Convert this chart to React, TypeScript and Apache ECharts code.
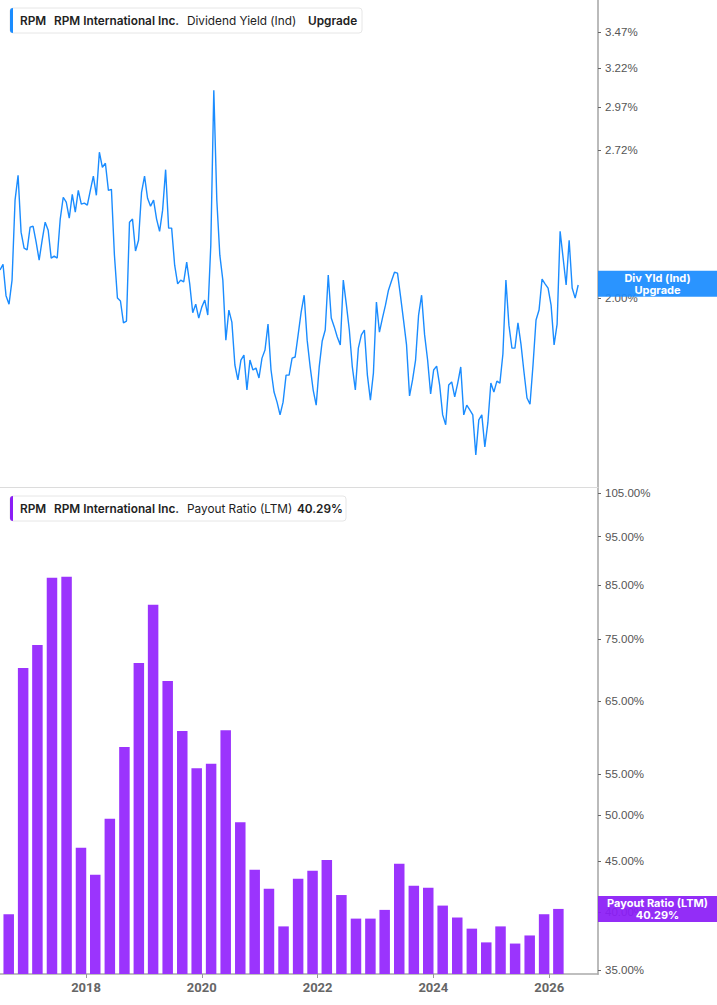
import React, { useEffect, useRef } from 'react';
import * as echarts from 'echarts';

// Dividend yield (%), sampled every 19 days from the start date
const yieldStart = '2016-07-07';
const yieldStepDays = 19;
const yieldValues = [
  2.12, 2.145, 2.01, 1.975, 2.076, 2.45, 2.58, 2.293, 2.218, 2.21,
  2.317, 2.321, 2.246, 2.164, 2.255, 2.341, 2.302, 2.173, 2.182, 2.173,
  2.356, 2.465, 2.44, 2.36, 2.48, 2.39, 2.5, 2.43, 2.435, 2.425,
  2.5, 2.575, 2.475, 2.706, 2.623, 2.645, 2.5, 2.506, 2.186, 2.0,
  1.988, 1.9, 1.907, 2.341, 2.356, 2.205, 2.255, 2.49, 2.575, 2.46,
  2.42, 2.45, 2.356, 2.297, 2.4, 2.61, 2.312, 2.312, 2.141, 2.06,
  2.076, 2.068, 2.155, 2.06, 1.94, 1.975, 1.919, 1.963, 1.992, 1.931,
  2.232, 3.077, 2.45, 2.186, 2.076, 1.833, 1.951, 1.903, 1.741, 1.688,
  1.759, 1.777, 1.653, 1.759, 1.723, 1.73, 1.695, 1.766, 1.796, 1.895,
  1.723, 1.646, 1.612, 1.57, 1.612, 1.705, 1.705, 1.766, 1.77, 1.853,
  1.943, 2.012, 1.833, 1.734, 1.653, 1.602, 1.734, 1.83, 1.872, 2.098,
  1.919, 1.884, 1.845, 1.815, 2.076, 1.975, 1.872, 1.734, 1.653, 1.803,
  1.853, 1.872, 1.705, 1.619, 1.712, 1.984, 1.864, 1.919, 1.971, 2.033,
  2.072, 2.11, 2.106, 2.008, 1.911, 1.815, 1.633, 1.688, 1.759, 1.931,
  2.012, 1.853, 1.759, 1.64, 1.723, 1.737, 1.67, 1.57, 1.538, 1.67,
  1.681, 1.63, 1.677, 1.734, 1.57, 1.602, 1.586, 1.57, 1.445, 1.554,
  1.57, 1.469, 1.544, 1.677, 1.646, 1.684, 1.677, 1.781, 2.076, 1.891,
  1.803, 1.803, 1.9, 1.818, 1.716, 1.626, 1.605, 1.741, 1.911, 1.951,
  2.08, 2.06, 2.042, 1.971, 1.815, 1.895, 2.297, 2.173, 2.055, 2.255,
  2.042, 2.0, 2.055,
];

// Payout ratio (LTM, %) by fiscal quarter end
const payoutDates = [
  '2016-08-31', '2016-11-30', '2017-02-28', '2017-05-31', '2017-08-31', '2017-11-30',
  '2018-02-28', '2018-05-31', '2018-08-31', '2018-11-30', '2019-02-28', '2019-05-31',
  '2019-08-31', '2019-11-30', '2020-02-29', '2020-05-31', '2020-08-31', '2020-11-30',
  '2021-02-28', '2021-05-31', '2021-08-31', '2021-11-30', '2022-02-28', '2022-05-31',
  '2022-08-31', '2022-11-30', '2023-02-28', '2023-05-31', '2023-08-31', '2023-11-30',
  '2024-02-29', '2024-05-31', '2024-08-31', '2024-11-30', '2025-02-28', '2025-05-31',
  '2025-08-31', '2025-11-30', '2026-02-28',
];
const payoutValues = [
  39.8, 70.2, 74.0, 86.4, 86.6, 46.4, 43.6, 49.6, 58.5, 71.0,
  81.2, 68.1, 60.7, 55.7, 56.3, 60.8, 49.2, 44.1, 42.2, 38.7,
  43.2, 44.0, 45.1, 41.6, 39.4, 39.4, 40.2, 44.7, 42.5, 42.3,
  40.6, 39.5, 38.5, 37.3, 38.7, 37.2, 37.9, 39.8, 40.29,
];

const yieldTicks = [2.0, 2.72, 2.97, 3.22, 3.47];
const payoutTicks = [35, 40, 45, 50, 55, 65, 75, 85, 95, 105];
const yearTicks = [2018, 2020, 2022, 2024, 2026];

const BLUE = '#1a8cff';
const PURPLE = '#9b34fd';

export default function App() {
  const ref = useRef<HTMLDivElement>(null);

  useEffect(() => {
    document.body.style.margin = '0';
    const chart = echarts.init(ref.current!, null, { renderer: 'svg' });
    const dayMs = 86400000;
    const start = Date.parse(yieldStart);
    const lineData = yieldValues.map((v, i) => [start + i * yieldStepDays * dayMs, v]);
    const barData = payoutDates.map((d, i) => [Date.parse(d), payoutValues[i]]);
    const lastYield = yieldValues[yieldValues.length - 1];
    const lastPayout = payoutValues[payoutValues.length - 1];
    const xMin = Date.UTC(2016, 6, 7);
    const xMax = Date.UTC(2026, 10, 5);
    const yearVals = yearTicks.map((y) => Date.UTC(y, 0, 1));

    const yLabel = {
      color: '#555',
      fontSize: 11.5,
      fontFamily: 'Liberation Sans, Arial, sans-serif',
      margin: 7,
    };

    const legendText = (x: number, text: string, bold: boolean) => ({
      type: 'text',
      x,
      y: 12.5,
      style: {
        text,
        fontFamily: 'Inter',
        fontSize: 11.8,
        fontWeight: bold ? 600 : 400,
        fill: '#222',
        verticalAlign: 'middle',
      },
    });

    const markLabel = (text: string, bg: string) => ({
      show: true,
      opacity: 1,
      position: 'end',
      distance: 0,
      formatter: text,
      backgroundColor: bg,
      padding: [1, 0, 1, 0],
      rich: {
        a: {
          width: 119,
          align: 'center',
          color: '#fff',
          fontWeight: 'bold',
          fontSize: 11,
          lineHeight: 12,
          fontFamily: 'Inter',
        },
      },
    });

    const hiddenLine = { color: 'rgba(0,0,0,0)', width: 0 };

    chart.setOption({
      animation: false,
      grid: [
        { left: 0, right: 119, top: 0, height: 487 },
        { left: 0, right: 119, top: 487, height: 487 },
      ],
      xAxis: [
        {
          type: 'value',
          gridIndex: 0,
          min: xMin,
          max: xMax,
          axisLine: { show: true, lineStyle: { color: '#dcdcdc', width: 1 } },
          axisTick: { show: false },
          axisLabel: { show: false },
          splitLine: { show: false },
        },
        {
          type: 'value',
          gridIndex: 1,
          min: xMin,
          max: xMax,
          axisLine: { show: true, lineStyle: { color: '#aaaaaa', width: 1.5 } },
          axisTick: { show: true, length: 4, lineStyle: { color: '#999' }, customValues: yearVals },
          axisLabel: {
            show: true,
            customValues: yearVals,
            formatter: (v: number) => String(new Date(v).getUTCFullYear()),
            color: '#666',
            fontSize: 13,
            fontWeight: 'bold',
            fontFamily: 'Roboto',
            margin: 7,
          },
          splitLine: { show: false },
        },
      ],
      yAxis: [
        {
          type: 'log',
          gridIndex: 0,
          position: 'right',
          min: 1.352,
          max: 3.71,
          axisLine: { show: true, lineStyle: { color: '#bbbbbb', width: 2 } },
          axisTick: { show: true, length: 3, lineStyle: { color: '#666' }, customValues: yieldTicks },
          axisLabel: {
            ...yLabel,
            customValues: yieldTicks,
            formatter: (v: number) => v.toFixed(2) + '%',
          },
          splitLine: { show: false },
        },
        {
          type: 'log',
          gridIndex: 1,
          position: 'right',
          min: 34.68,
          max: 106.5,
          axisLine: { show: true, lineStyle: { color: '#bbbbbb', width: 2 } },
          axisTick: { show: true, length: 3, lineStyle: { color: '#666' }, customValues: payoutTicks },
          axisLabel: {
            ...yLabel,
            customValues: payoutTicks,
            formatter: (v: number) => v.toFixed(2) + '%',
          },
          splitLine: { show: false },
        },
      ],
      series: [
        {
          type: 'line',
          xAxisIndex: 0,
          yAxisIndex: 0,
          data: lineData,
          showSymbol: false,
          lineStyle: { color: BLUE, width: 1.4 },
          itemStyle: { color: BLUE },
          z: 3,
          markLine: {
            silent: true,
            symbol: ['none', 'none'],
            lineStyle: hiddenLine,
            label: markLabel('{a|Div Yld (Ind)}\n{a|Upgrade}', 'rgba(26,140,255,0.93)'),
            data: [{ yAxis: lastYield }],
          },
        },
        {
          type: 'bar',
          xAxisIndex: 1,
          yAxisIndex: 1,
          data: barData,
          barWidth: 10.5,
          itemStyle: { color: PURPLE },
          markLine: {
            silent: true,
            symbol: ['none', 'none'],
            lineStyle: hiddenLine,
            label: markLabel(
              '{a|Payout Ratio (LTM)}\n{a|' + lastPayout.toFixed(2) + '%}',
              'rgba(139,29,246,0.93)'
            ),
            data: [{ yAxis: lastPayout }],
          },
        },
      ],
      graphic: [
        {
          type: 'group',
          x: 10,
          y: 8,
          z: 100,
          children: [
            { type: 'rect', shape: { x: 0, y: 0, width: 352, height: 25, r: 3 }, style: { fill: '#fff', stroke: '#e6e6e6', lineWidth: 1 } },
            { type: 'rect', shape: { x: 0, y: 0, width: 3, height: 25, r: [3, 0, 0, 3] }, style: { fill: BLUE } },
            legendText(10, 'RPM', true),
            legendText(44, 'RPM International Inc.', true),
            legendText(177, 'Dividend Yield (Ind)', false),
            legendText(298, 'Upgrade', true),
          ],
        },
        {
          type: 'group',
          x: 10,
          y: 496,
          z: 100,
          children: [
            { type: 'rect', shape: { x: 0, y: 0, width: 336, height: 25, r: 3 }, style: { fill: '#fff', stroke: '#e6e6e6', lineWidth: 1 } },
            { type: 'rect', shape: { x: 0, y: 0, width: 3, height: 25, r: [3, 0, 0, 3] }, style: { fill: '#8b1df6' } },
            legendText(10, 'RPM', true),
            legendText(44, 'RPM International Inc.', true),
            legendText(177, 'Payout Ratio (LTM)', false),
            legendText(287, lastPayout.toFixed(2) + '%', true),
          ],
        },
      ],
    });
    return () => chart.dispose();
  }, []);

  return (
    <div
      ref={ref}
      style={{ position: 'fixed', left: 0, top: 0, width: 717, height: 1005, background: '#fff' }}
    />
  );
}
